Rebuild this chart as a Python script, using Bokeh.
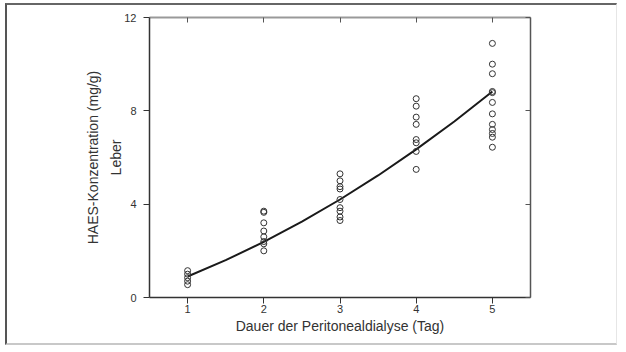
from bokeh.plotting import figure
from bokeh.models import LinearAxis, FixedTicker, Range1d
from bokeh.embed import file_html
from bokeh.resources import INLINE

# Data
day1 = [1.15, 1.0, 0.85, 0.7, 0.55]
day2 = [3.7, 3.65, 3.2, 2.85, 2.6, 2.4, 2.3, 2.0]
day3 = [5.3, 5.0, 4.75, 4.65, 4.2, 3.85, 3.7, 3.45, 3.3]
day4 = [8.52, 8.2, 7.73, 7.42, 6.77, 6.63, 6.26, 5.49]
day5 = [10.89, 10.0, 9.59, 8.83, 8.78, 8.36, 7.87, 7.42, 7.2, 7.03, 6.87, 6.44]

curve_x = [1, 1.5, 2, 2.5, 3, 3.5, 4, 4.5, 5]
curve_y = [0.9, 1.6, 2.38, 3.25, 4.2, 5.23, 6.35, 7.54, 8.83]

x_ticks = [1, 2, 3, 4, 5]
y_ticks = [0, 4, 8, 12]

xs, ys = [], []
for d, vals in zip(x_ticks, [day1, day2, day3, day4, day5]):
    xs += [d] * len(vals)
    ys += vals

FONT = "Liberation Sans"

p = figure(width=612, height=342, output_backend="svg", toolbar_location=None,
           x_range=Range1d(0.5, 5.5), y_range=Range1d(0, 12),
           min_border_left=142, min_border_right=89, min_border_top=12, min_border_bottom=50)
p.grid.visible = False
p.outline_line_color = None
p.background_fill_color = "white"
p.border_fill_color = "white"
p.styles = {"margin-left": "5px", "margin-top": "3px",
            "border-top": "2px solid #666666", "border-left": "2px solid #555555",
            "border-bottom": "2px solid #c8c8c8", "border-right": "1px solid #e6e6e6"}

p.line(curve_x, curve_y, line_color="#1a1a1a", line_width=2)
p.scatter(xs, ys, marker="circle", size=6, fill_color=None, line_color="#333333", line_width=1)

for ax in [p.xaxis[0], p.yaxis[0]]:
    ax.axis_line_color = "#333333"
    ax.axis_line_width = 1.5
    ax.major_tick_line_color = "#333333"
    ax.major_tick_in = 0
    ax.major_tick_out = 6
    ax.minor_tick_line_color = None
    ax.major_label_text_font = FONT
    ax.major_label_text_font_size = "11px"
    ax.major_label_text_color = "#333333"
    ax.axis_label_text_font = FONT
    ax.axis_label_text_font_size = "14px"
    ax.axis_label_text_font_style = "normal"
    ax.axis_label_text_color = "#333333"

p.xaxis[0].ticker = FixedTicker(ticks=x_ticks)
p.yaxis[0].ticker = FixedTicker(ticks=y_ticks)
p.xaxis[0].axis_label = "Dauer der Peritonealdialyse (Tag)"
p.yaxis[0].axis_label = "HAES-Konzentration (mg/g)\nLeber"
p.yaxis[0].axis_label_text_line_height = 1.45
p.xaxis[0].axis_label_standoff = 2
p.yaxis[0].axis_label_standoff = -3
p.xaxis[0].major_label_standoff = 1
p.yaxis[0].major_label_standoff = 7

blank_x = {t: "" for t in x_ticks}
blank_y = {t: "" for t in y_ticks}
top = LinearAxis(ticker=FixedTicker(ticks=x_ticks), major_label_overrides=blank_x,
                 axis_line_color="#999999", axis_line_width=2,
                 major_tick_line_color="#555555", major_tick_in=5, major_tick_out=0,
                 minor_tick_line_color=None, major_label_standoff=0)
right = LinearAxis(ticker=FixedTicker(ticks=y_ticks), major_label_overrides=blank_y,
                   axis_line_color="#555555", axis_line_width=1.5,
                   major_tick_line_color="#555555", major_tick_in=5, major_tick_out=0,
                   minor_tick_line_color=None, major_label_standoff=0)
p.add_layout(top, "above")
p.add_layout(right, "right")

open("out.html", "w").write(file_html(p, INLINE))
